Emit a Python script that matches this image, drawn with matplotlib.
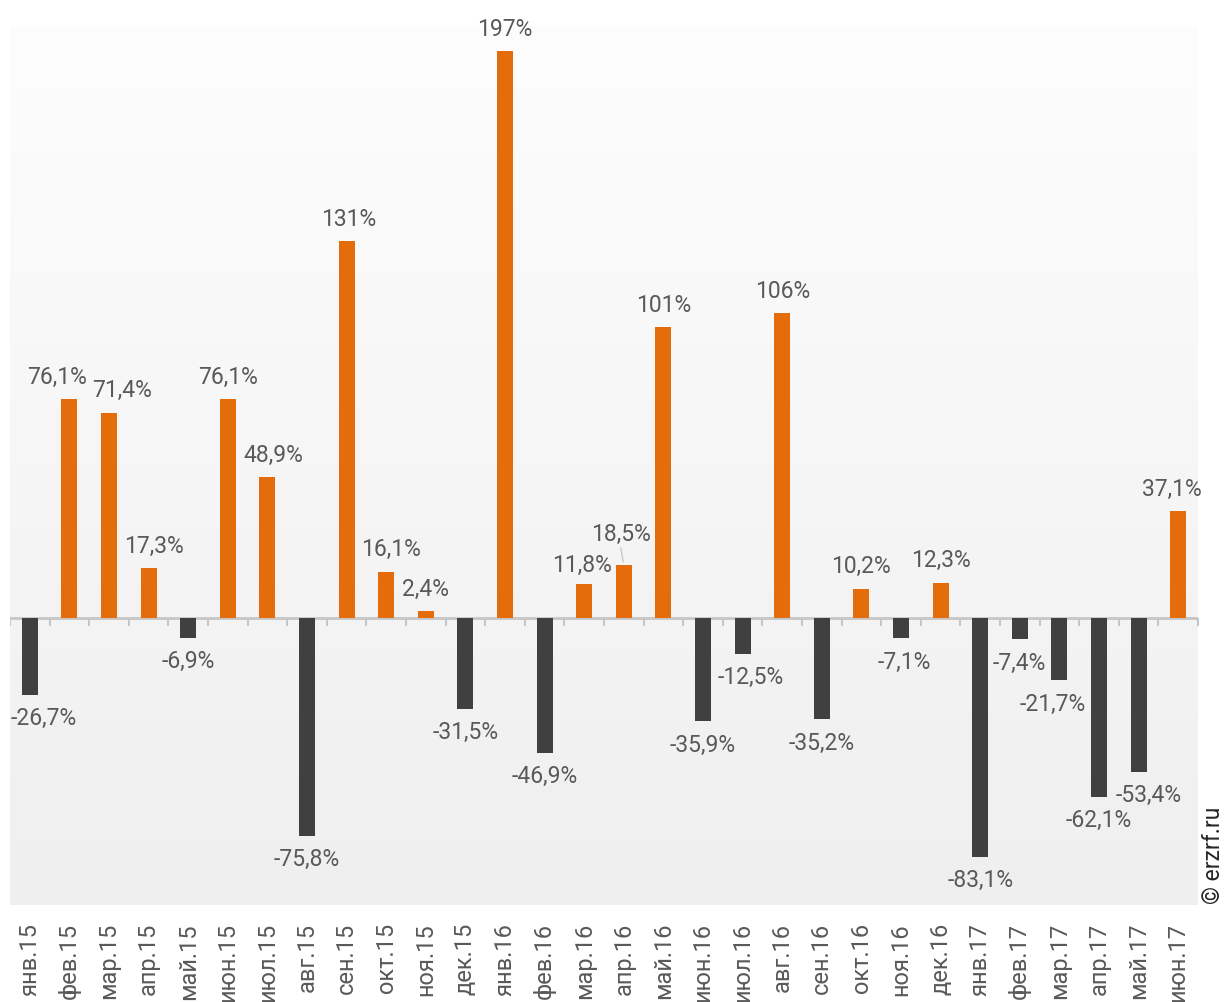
import numpy as np
import matplotlib.pyplot as plt
import matplotlib.transforms as mtransforms
from matplotlib.colors import LinearSegmentedColormap

plt.rcParams['font.family'] = ['Roboto', 'DejaVu Sans']

months = ['янв.15', 'фев.15', 'мар.15', 'апр.15', 'май.15', 'июн.15', 'июл.15',
          'авг.15', 'сен.15', 'окт.15', 'ноя.15', 'дек.15', 'янв.16', 'фев.16',
          'мар.16', 'апр.16', 'май.16', 'июн.16', 'июл.16', 'авг.16', 'сен.16',
          'окт.16', 'ноя.16', 'дек.16', 'янв.17', 'фев.17', 'мар.17', 'апр.17',
          'май.17', 'июн.17']
change = [-26.7, 76.1, 71.4, 17.3, -6.9, 76.1, 48.9, -75.8, 131, 16.1, 2.4, -31.5,
          197, -46.9, 11.8, 18.5, 101, -35.9, -12.5, 106, -35.2, 10.2, -7.1, 12.3,
          -83.1, -7.4, -21.7, -62.1, -53.4, 37.1]

# label nudges in pixels (dx, dy) where labels would collide
nudge = {0: (14, 0), 1: (-12, 0), 2: (13, 0), 3: (5, 0), 6: (6, 0), 8: (2, 0),
         9: (5, 0), 14: (-2, -3), 15: (-3, 8), 18: (8, 0), 22: (3, 0),
         26: (-7, 0), 28: (10, 0), 29: (-6, 0)}

ORANGE = '#E46C0A'
DARK = '#404040'
TXT = '#595959'
GRID = '#c6c6c6'
PX = 0.72  # points per pixel at 100 dpi


def fmt(v):
    if abs(v) >= 100:
        return f'{v:.0f}%'
    return f'{v:.1f}%'.replace('.', ',')


fig = plt.figure(figsize=(12.24, 10.03), dpi=100)
ax = fig.add_axes([10 / 1224, 1 - 906 / 1003, 1188 / 1224, 879 / 1003])

n = len(months)
x = np.arange(n)
ax.set_xlim(-0.5, n - 0.5)
ax.set_ylim(-99.8, 205.8)

# soft vertical gradient behind the bars
grad = np.linspace(0, 1, 256).reshape(-1, 1)
ax.imshow(grad, extent=(-0.5, n - 0.5, -99.8, 205.8), aspect='auto',
          cmap=LinearSegmentedColormap.from_list('bg', ['#fdfdfd', '#efefef']),
          origin='upper', zorder=0)

colors = [ORANGE if v >= 0 else DARK for v in change]
ax.bar(x, change, width=0.4, color=colors, zorder=3)

# zero axis with boundary ticks
ax.axhline(0, color=GRID, lw=2, zorder=2)
ax.plot(np.arange(n + 1) - 0.5, np.zeros(n + 1), ls='none', zorder=2,
        marker=[(0, 0), (0, -1)], markersize=12, markeredgewidth=1.5,
        markeredgecolor=GRID)

for s in ax.spines.values():
    s.set_visible(False)
ax.set_xticks([])
ax.set_yticks([])

for i, v in enumerate(change):
    dx, dy = nudge.get(i, (0, 0))
    base = 23 if v >= 0 else -23
    ax.annotate(fmt(v), (i, v), xytext=(dx * PX, (base + dy) * PX),
                textcoords='offset points', ha='center', va='center',
                fontsize=16.5, color=TXT, zorder=5)
    if i == 15:
        ax.annotate('', (i, v), xytext=(-3 * PX, 17 * PX),
                    textcoords='offset points',
                    arrowprops=dict(arrowstyle='-', color='#c8c8c8', lw=1,
                                    shrinkA=0, shrinkB=2))

# month labels under the plot area
trans = mtransforms.blended_transform_factory(ax.transData, ax.transAxes)
for i, m in enumerate(months):
    ax.text(i, -17 / 879, m, transform=trans, rotation=90, ha='center',
            va='top', fontsize=17, color=TXT)

fig.text(1213 / 1224, 1 - 855 / 1003, '© erzrf.ru', rotation=90, ha='center',
         va='center', fontsize=16.5, color='#262626')

fig.savefig('out.png', dpi=100, facecolor='white')
